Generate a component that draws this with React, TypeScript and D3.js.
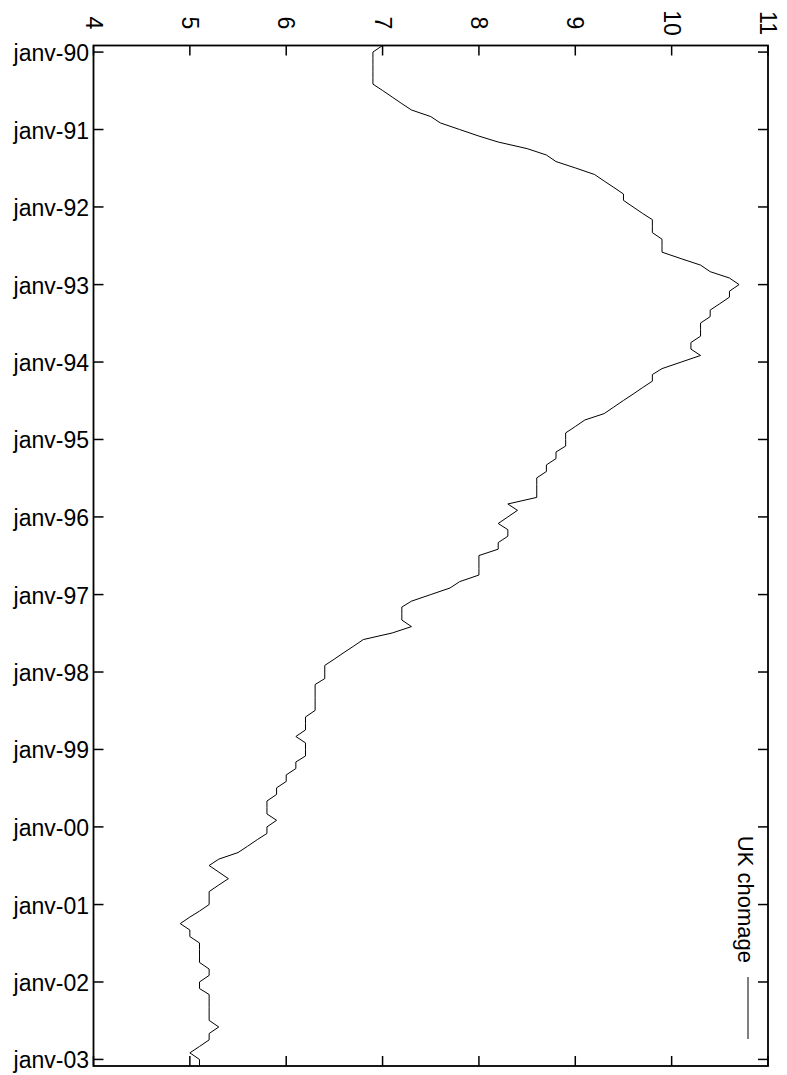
import * as d3 from "d3";

// monthly UK unemployment rate, Dec 1989 .. Feb 2003
const firstMonth = new Date(1989, 11, 1);
const rates = [
  7.0,
  6.9, 6.9, 6.9, 6.9, 6.9, 6.9, 7.0, 7.1, 7.2, 7.3, 7.5, 7.6,
  7.8, 8.0, 8.2, 8.5, 8.7, 8.8, 9.0, 9.2, 9.3, 9.4, 9.5, 9.5,
  9.6, 9.7, 9.8, 9.8, 9.8, 9.9, 9.9, 9.9, 10.1, 10.3, 10.4, 10.6,
  10.7, 10.6, 10.6, 10.5, 10.4, 10.4, 10.3, 10.3, 10.3, 10.2, 10.2, 10.3,
  10.1, 9.9, 9.8, 9.8, 9.7, 9.6, 9.5, 9.4, 9.3, 9.1, 9.0, 8.9,
  8.9, 8.9, 8.8, 8.8, 8.7, 8.7, 8.6, 8.6, 8.6, 8.6, 8.3, 8.4,
  8.3, 8.2, 8.3, 8.3, 8.2, 8.2, 8.0, 8.0, 8.0, 8.0, 7.8, 7.7,
  7.5, 7.3, 7.2, 7.2, 7.2, 7.3, 7.1, 6.8, 6.7, 6.6, 6.5, 6.4,
  6.4, 6.4, 6.3, 6.3, 6.3, 6.3, 6.3, 6.2, 6.2, 6.2, 6.1, 6.2,
  6.2, 6.2, 6.1, 6.1, 6.0, 6.0, 5.9, 5.9, 5.8, 5.8, 5.8, 5.9,
  5.8, 5.8, 5.7, 5.6, 5.5, 5.3, 5.2, 5.3, 5.4, 5.3, 5.2, 5.2,
  5.2, 5.1, 5.0, 4.9, 5.0, 5.0, 5.1, 5.1, 5.1, 5.1, 5.2, 5.2,
  5.1, 5.1, 5.2, 5.2, 5.2, 5.2, 5.2, 5.3, 5.2, 5.2, 5.1, 5.0,
  5.1, 5.1,
];
const tickYears = [1990, 1991, 1992, 1993, 1994, 1995, 1996, 1997, 1998, 1999, 2000, 2001, 2002, 2003];
const valueTicks = [4, 5, 6, 7, 8, 9, 10, 11];
const seriesLabel = "UK chomage";

const W = 787;
const H = 1075;
const font = "'Liberation Sans', Arial, Helvetica, sans-serif";
const fmtYear = d3.timeFormat("%y");

export default function App() {
  const dates = rates.map((_, i) => d3.timeMonth.offset(firstMonth, i));
  const t = d3
    .scaleTime()
    .domain(d3.extent(dates) as [Date, Date])
    .range([45.5, 1066]);
  const v = d3.scaleLinear().domain([4, 11]).range([93.5, 768]);

  const line = d3
    .line<number>()
    .x((d) => v(d))
    .y((_, i) => t(dates[i]));

  const [x0, x1] = v.range();
  const [y0, y1] = t.range();
  const tl = 10;

  return (
    <svg
      width={W}
      height={H}
      style={{ position: "absolute", left: 0, top: 0, background: "#fff" }}
      fontFamily={font}
    >
      {/* value axis: ticks on top and bottom edges, labels on top */}
      {valueTicks.map((d) => (
        <g key={"v" + d}>
          <line x1={v(d)} x2={v(d)} y1={y0} y2={y0 + tl} stroke="#000" strokeWidth={1.5} />
          <line x1={v(d)} x2={v(d)} y1={y1} y2={y1 - tl} stroke="#000" strokeWidth={1.5} />
          <text
            transform={`translate(${v(d)},${23}) rotate(90)`}
            textAnchor="middle"
            dominantBaseline="central"
            fontSize={23}
          >
            {d}
          </text>
        </g>
      ))}

      {/* time axis: ticks on left and right edges, labels on the left */}
      {tickYears.map((yr) => {
        const y = t(new Date(yr, 0, 1));
        return (
          <g key={"t" + yr}>
            <line x1={x0} x2={x0 + tl} y1={y} y2={y} stroke="#000" strokeWidth={1.5} />
            <line x1={x1} x2={x1 - tl} y1={y} y2={y} stroke="#000" strokeWidth={1.5} />
            <text x={89} y={y + 1} textAnchor="end" dominantBaseline="central" fontSize={23}>
              {"janv-" + fmtYear(new Date(yr, 0, 1))}
            </text>
          </g>
        );
      })}

      <path d={line(rates) ?? ""} fill="none" stroke="#000" strokeWidth={1} />

      <rect
        x={x0}
        y={y0}
        width={x1 - x0}
        height={y1 - y0}
        fill="none"
        stroke="#000"
        strokeWidth={1.8}
      />

      {/* legend */}
      <text
        transform={`translate(745,963) rotate(90)`}
        textAnchor="end"
        dominantBaseline="central"
        fontSize={22}
      >
        {seriesLabel}
      </text>
      <line x1={748} x2={748} y1={977} y2={1039} stroke="#000" strokeWidth={1} />
    </svg>
  );
}
